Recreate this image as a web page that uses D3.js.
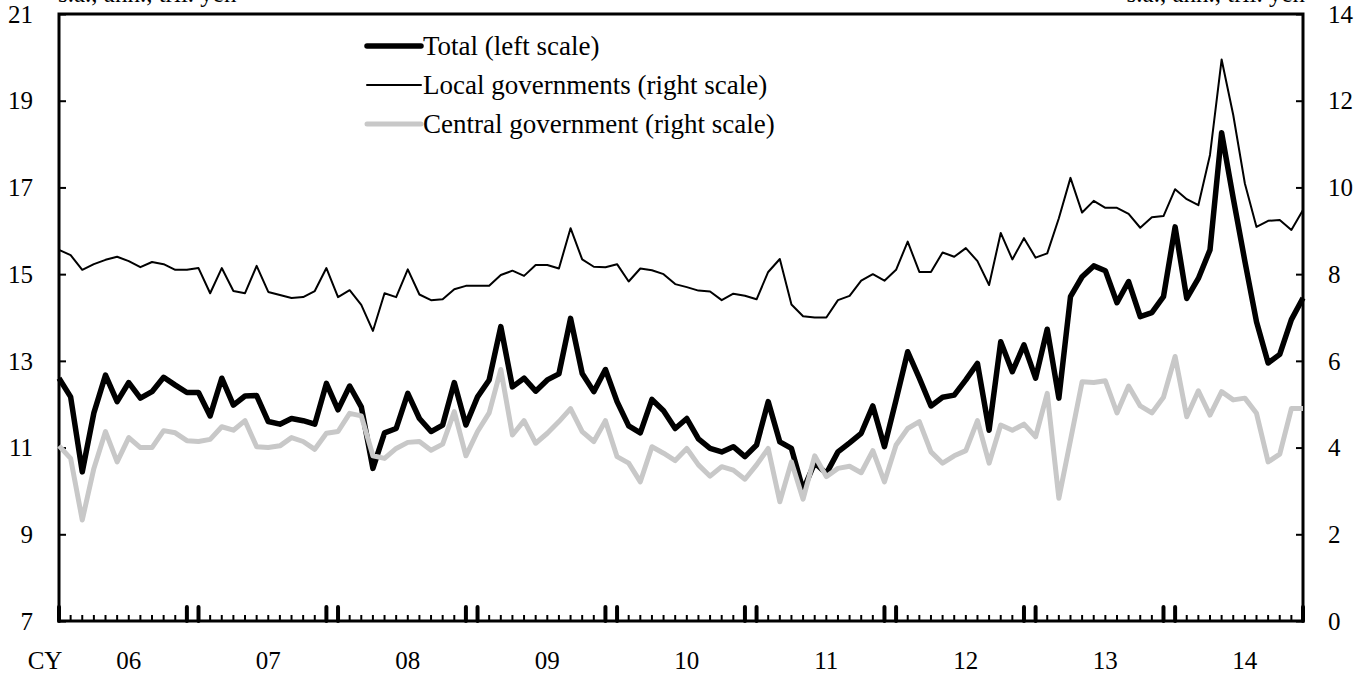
<!DOCTYPE html>
<html>
<head>
<meta charset="utf-8">
<script src="https://cdn.jsdelivr.net/npm/d3@7"></script>
<style>
  body { margin: 0; background: #fff; }
  svg text { font-family: "Liberation Serif", "Times New Roman", serif; fill: #000; }
</style>
</head>
<body>
<svg class="svg-main" width="1370" height="675"></svg>
<script>
// monthly, Jan 2006 .. Dec 2014
const years = ["06", "07", "08", "09", "10", "11", "12", "13", "14"];

// total, left scale
const total = [
  12.6, 12.17, 10.44, 11.8, 12.67, 12.06, 12.5, 12.14, 12.29, 12.62, 12.44, 12.27,
  12.27, 11.73, 12.6, 11.98, 12.19, 12.2, 11.6, 11.54, 11.67, 11.62, 11.54, 12.48,
  11.87, 12.42, 11.94, 10.52, 11.34, 11.44, 12.25, 11.67, 11.37, 11.52, 12.5, 11.52,
  12.17, 12.56, 13.79, 12.4, 12.6, 12.3, 12.56, 12.7, 13.98, 12.71, 12.29, 12.8,
  12.06, 11.5, 11.34, 12.11, 11.85, 11.44, 11.67, 11.2, 10.98, 10.9, 11.02, 10.79,
  11.06, 12.06, 11.13, 10.98, 10.02, 10.65, 10.4, 10.9, 11.11, 11.33, 11.96, 11.02,
  12.1, 13.21, 12.6, 11.96, 12.16, 12.21, 12.56, 12.94, 11.4, 13.44, 12.75, 13.37,
  12.6, 13.73, 12.14, 14.48, 14.94, 15.19, 15.08, 14.34, 14.83, 14.02, 14.11, 14.48,
  16.09, 14.44, 14.9, 15.56, 18.26, 16.75, 15.3, 13.9, 12.95, 13.15, 13.95, 14.45
];

// local governments, right scale
const local = [
  8.56, 8.44, 8.1, 8.23, 8.33, 8.4, 8.3, 8.16, 8.28, 8.23, 8.1, 8.1,
  8.14, 7.56, 8.14, 7.61, 7.56, 8.19, 7.59, 7.52, 7.45, 7.47, 7.61, 8.14,
  7.47, 7.63, 7.29, 6.69, 7.56, 7.47, 8.11, 7.53, 7.4, 7.42, 7.65, 7.73,
  7.73, 7.73, 7.98, 8.08, 7.96, 8.21, 8.21, 8.13, 9.06, 8.34, 8.17, 8.16,
  8.23, 7.83, 8.13, 8.09, 8.0, 7.77, 7.7, 7.62, 7.6, 7.4, 7.55, 7.5,
  7.42, 8.05, 8.35, 7.3, 7.03, 7.0, 7.0, 7.4, 7.5, 7.85, 8.0, 7.85,
  8.1, 8.75, 8.05, 8.05, 8.5, 8.4, 8.6, 8.3, 7.75, 8.95, 8.34, 8.83,
  8.38, 8.48, 9.29, 10.22, 9.42, 9.69, 9.53, 9.53, 9.39, 9.07, 9.31, 9.34,
  9.96, 9.73, 9.59, 10.75, 12.95, 11.67, 10.09, 9.09, 9.23, 9.25, 9.02, 9.48
];

// central government, right scale
const central = [
  4.04, 3.75, 2.33, 3.52, 4.37, 3.67, 4.23, 4.0, 4.0, 4.39, 4.34, 4.16,
  4.14, 4.19, 4.48, 4.4, 4.62, 4.02, 4.0, 4.04, 4.23, 4.14, 3.96, 4.33,
  4.37, 4.79, 4.73, 3.81, 3.75, 3.98, 4.12, 4.14, 3.94, 4.08, 4.83, 3.81,
  4.37, 4.8, 5.8, 4.29, 4.62, 4.1, 4.33, 4.6, 4.9, 4.37, 4.14, 4.62,
  3.79, 3.64, 3.21, 4.02, 3.87, 3.7, 3.98, 3.6, 3.34, 3.56, 3.48, 3.27,
  3.6, 3.98, 2.75, 3.67, 2.81, 3.81, 3.33, 3.52, 3.57, 3.42, 3.93, 3.21,
  4.06, 4.44, 4.6, 3.9, 3.64, 3.81, 3.93, 4.62, 3.64, 4.52, 4.4, 4.54,
  4.25, 5.25, 2.83, 4.17, 5.52, 5.5, 5.54, 4.8, 5.42, 4.96, 4.8, 5.16,
  6.1, 4.71, 5.31, 4.75, 5.29, 5.1, 5.14, 4.79, 3.67, 3.85, 4.9, 4.9
];

const leftTicks = [7, 9, 11, 13, 15, 17, 19, 21];
const rightTicks = [0, 2, 4, 6, 8, 10, 12, 14];

const svg = d3.select(".svg-main");
const plotL = 59, plotR = 1303, plotT = 14, plotB = 621;

const x = d3.scaleLinear().domain([0, total.length - 1]).range([plotL, plotR]);
const yL = d3.scaleLinear().domain([7, 21]).range([plotB, plotT]);
const yR = d3.scaleLinear().domain([0, 14]).range([plotB, plotT]);

// unit captions, cut off at top edge as in the original
svg.append("text").attr("x", 58).attr("y", 2).attr("font-size", 25)
  .text("s.a., ann., tril. yen");
svg.append("text").attr("x", 1305).attr("y", 2).attr("font-size", 25)
  .attr("text-anchor", "end").text("s.a., ann., tril. yen");

// axes
const gl = svg.append("g").attr("transform", `translate(${plotL},0)`)
  .call(d3.axisRight(yL).tickValues(leftTicks).tickSize(7).tickFormat(""));
const gr = svg.append("g").attr("transform", `translate(${plotR},0)`)
  .call(d3.axisLeft(yR).tickValues(rightTicks).tickSize(7).tickFormat(""));
[gl, gr].forEach(g => {
  g.select(".domain").remove();
  g.selectAll("line").attr("stroke", "#000").attr("stroke-width", 2);
});

svg.append("g").selectAll("text").data(leftTicks).join("text")
  .attr("x", 33).attr("y", d => yL(d)).attr("dy", "0.35em")
  .attr("text-anchor", "end").attr("font-size", 25).text(d => d);
svg.append("g").selectAll("text").data(rightTicks).join("text")
  .attr("x", 1328).attr("y", d => yR(d)).attr("dy", "0.35em")
  .attr("font-size", 25).text(d => d);

// month ticks on bottom axis
const months = d3.range(total.length);
const isYearEdge = i => i === 0 || i === months.length - 1 || i % 12 === 11 || (i % 12 === 0);
svg.append("g").selectAll("line").data(months).join("line")
  .attr("x1", d => x(d)).attr("x2", d => x(d))
  .attr("y1", plotB).attr("y2", d => isYearEdge(d) ? plotB - 14 : plotB - 6)
  .attr("stroke", "#000")
  .attr("stroke-width", d => isYearEdge(d) ? 4 : 2)
  .attr("stroke-linecap", d => isYearEdge(d) ? "round" : "butt");

svg.append("text").attr("x", 45).attr("y", 669).attr("font-size", 25)
  .attr("text-anchor", "middle").text("CY");
svg.append("g").selectAll("text").data(years).join("text")
  .attr("x", (d, i) => x(i * 12 + 6)).attr("y", 669)
  .attr("text-anchor", "middle").attr("font-size", 25).text(d => d);

// frame
svg.append("path")
  .attr("d", `M${plotL},${plotB}V${plotT}H${plotR}V${plotB}Z`)
  .attr("fill", "none").attr("stroke", "#000").attr("stroke-width", 3);

// series
const lineL = d3.line().x((d, i) => x(i)).y(d => yL(d));
const lineR = d3.line().x((d, i) => x(i)).y(d => yR(d));

svg.append("path").datum(local).attr("d", lineR)
  .attr("fill", "none").attr("stroke", "#000").attr("stroke-width", 2)
  .attr("stroke-linejoin", "round");
svg.append("path").datum(total).attr("d", lineL)
  .attr("fill", "none").attr("stroke", "#000").attr("stroke-width", 5.5)
  .attr("stroke-linejoin", "round");
svg.append("path").datum(central).attr("d", lineR)
  .attr("fill", "none").attr("stroke", "#c8c8c8").attr("stroke-width", 5)
  .attr("stroke-linejoin", "round");

// legend
const legend = [
  { name: "Total (left scale)", color: "#000", width: 5.5, y: 46 },
  { name: "Local governments (right scale)", color: "#000", width: 2, y: 85 },
  { name: "Central government (right scale)", color: "#c8c8c8", width: 5, y: 124 }
];
const lg = svg.append("g").selectAll("g").data(legend).join("g");
lg.append("line")
  .attr("x1", 367).attr("x2", 421).attr("y1", d => d.y).attr("y2", d => d.y)
  .attr("stroke", d => d.color).attr("stroke-width", d => d.width)
  .attr("stroke-linecap", "round");
lg.append("text").attr("x", 423).attr("y", d => d.y).attr("dy", "0.33em")
  .attr("font-size", 27).text(d => d.name);
</script>
</body>
</html>
